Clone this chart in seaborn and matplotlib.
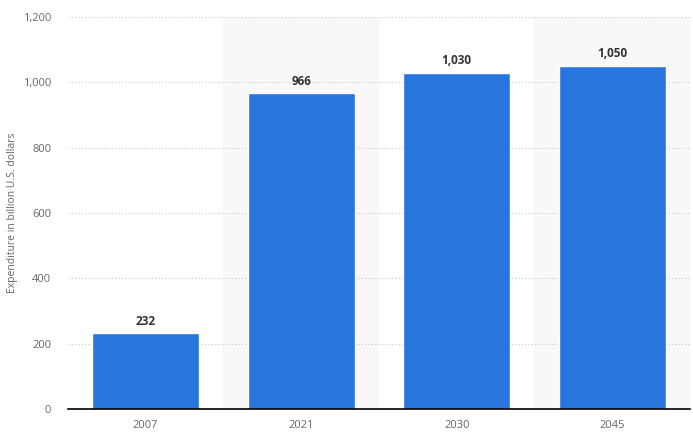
import matplotlib
matplotlib.use("Agg")
import matplotlib.pyplot as plt
import seaborn as sns
import pandas as pd

# data
years = ["2007", "2021", "2030", "2045"]
spend = [232, 966, 1030, 1050]
y_ticks = [0, 200, 400, 600, 800, 1000, 1200]

df = pd.DataFrame({"year": years, "spend": spend})

sns.set_style("white")
plt.rcParams["font.family"] = ["Open Sans", "DejaVu Sans"]

fig = plt.figure(figsize=(6.93, 4.32), dpi=100)
ax = fig.add_axes([0.098, 0.0532, 0.8977, 0.9074])

# alternating background bands
for i in range(len(years)):
    if i % 2 == 1:
        ax.axvspan(i - 0.5, i + 0.5, color="#f8f8f8", zorder=0, lw=0)

sns.barplot(data=df, x="year", y="spend", color="#2876dd", saturation=1,
            width=0.69, ax=ax, zorder=3)

for i, v in enumerate(spend):
    ax.text(i, v + 17, f"{v:,}", ha="center", va="bottom", fontsize=8.5,
            fontweight="bold", color="#333333", zorder=4)

ax.set_xlim(-0.5, len(years) - 0.5)
ax.set_ylim(0, 1200)
ax.set_yticks(y_ticks)
ax.set_yticklabels([f"{t:,}" for t in y_ticks])
ax.yaxis.grid(True, linestyle=(0, (1, 2)), color="#c8c8c8", linewidth=0.8, zorder=1)
ax.set_axisbelow(True)

for s in ["top", "right", "left"]:
    ax.spines[s].set_visible(False)
ax.spines["bottom"].set_color("#000000")
ax.spines["bottom"].set_linewidth(1.2)
ax.spines["bottom"].set_zorder(5)

ax.tick_params(axis="both", length=0, labelsize=8, colors="#666666")
ax.tick_params(axis="y", pad=12)
ax.tick_params(axis="x", pad=8)
ax.set_xlabel("")
ax.set_ylabel("Expenditure in billion U.S. dollars", fontsize=7.5, color="#666666")
ax.yaxis.set_label_coords(-0.08, 0.5)

fig.savefig("out.png", dpi=100)
